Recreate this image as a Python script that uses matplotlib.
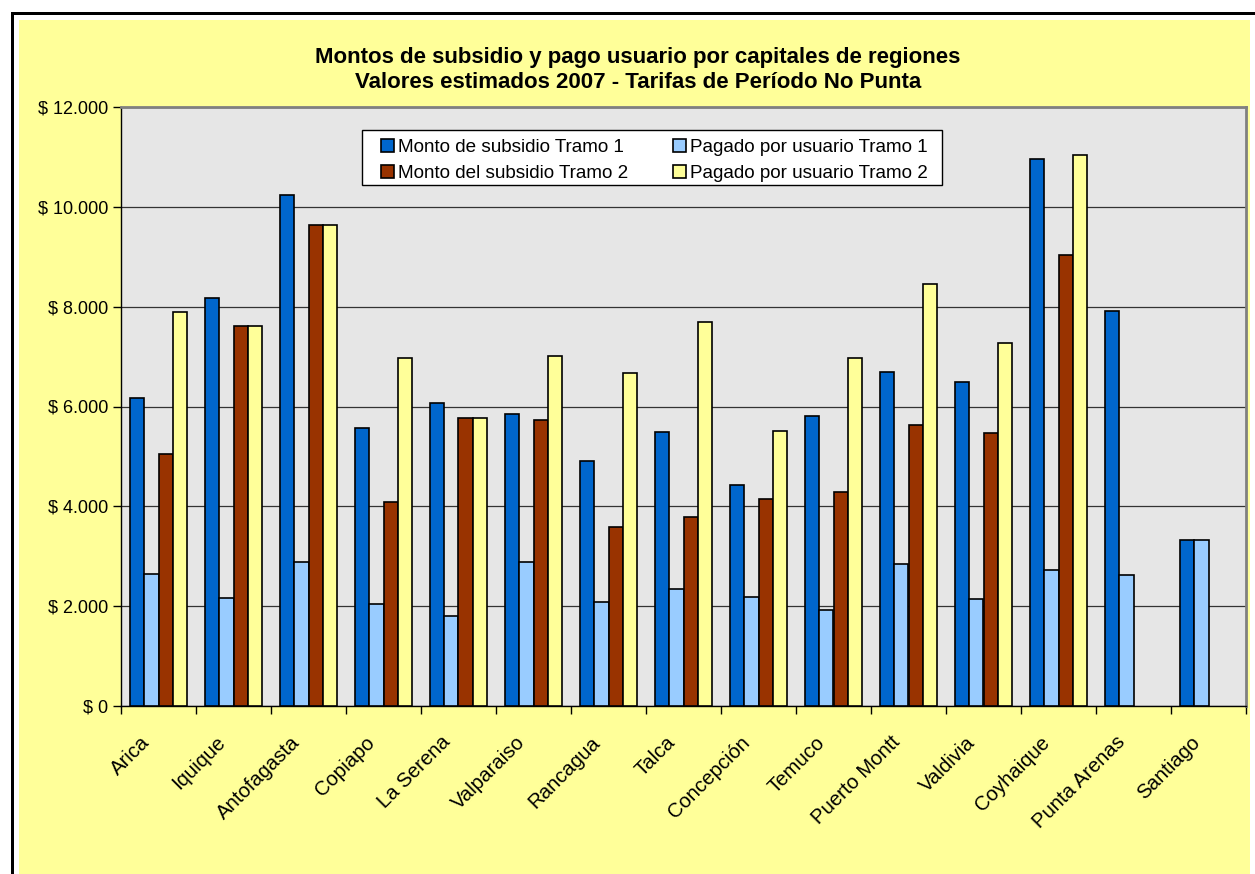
import matplotlib
matplotlib.use("Agg")
import matplotlib.pyplot as plt
import matplotlib.transforms as mtransforms
import numpy as np
from matplotlib.patches import Rectangle
from matplotlib.ticker import FuncFormatter, MultipleLocator, FixedLocator

plt.rcParams['font.family'] = ['Liberation Sans', 'DejaVu Sans']

ciudades = ["Arica", "Iquique", "Antofagasta", "Copiapo", "La Serena", "Valparaiso",
            "Rancagua", "Talca", "Concepción", "Temuco", "Puerto Montt", "Valdivia",
            "Coyhaique", "Punta Arenas", "Santiago"]

subsidio_t1 = [6167, 8167, 10239, 5572, 6064, 5857, 4913, 5492, 4437, 5818, 6683, 6485, 10953, 7905, 3318]
pagado_t1 = [2635, 2167, 2881, 2048, 1802, 2881, 2087, 2341, 2175, 1929, 2849, 2151, 2730, 2627, 3318]
subsidio_t2 = [5040, 7604, 9635, 4080, 5770, 5738, 3587, 3778, 4151, 4278, 5627, 5477, 9032, np.nan, np.nan]
pagado_t2 = [7889, 7604, 9635, 6969, 5770, 7016, 6675, 7683, 5508, 6977, 8453, 7270, 11040, np.nan, np.nan]

series = [
    ("Monto de subsidio Tramo 1", subsidio_t1, "#0066CC"),
    ("Pagado por usuario Tramo 1", pagado_t1, "#99CCFF"),
    ("Monto del subsidio Tramo 2", subsidio_t2, "#993300"),
    ("Pagado por usuario Tramo 2", pagado_t2, "#FFFF99"),
]

W, H = 1255, 874
fig = plt.figure(figsize=(W / 100, H / 100), dpi=100)
fig.patch.set_facecolor("white")

def px_rect(x0, y0, x1, y1, **kw):
    return Rectangle((x0 / W, 1 - y1 / H), (x1 - x0) / W, (y1 - y0) / H,
                     transform=fig.transFigure, **kw)

# outer frame and yellow chart area
fig.add_artist(px_rect(11, 12, W + 5, H + 5, facecolor="black", edgecolor="none", zorder=0))
fig.add_artist(px_rect(14, 15, W + 5, H + 5, facecolor="white", edgecolor="none", zorder=0))
fig.add_artist(px_rect(19, 20, 1250, H + 5, facecolor="#FFFF99", edgecolor="none", zorder=0))

left, right, top, bottom = 121, 1246, 107, 706
ax = fig.add_axes([left / W, 1 - bottom / H, (right - left) / W, (bottom - top) / H])
ax.set_facecolor("#E6E6E6")

n = len(ciudades)
x = np.arange(n)
bw = 0.19
offsets = (np.arange(4) - 1.5) * bw
handles = []
for (label, vals, color), off in zip(series, offsets):
    b = ax.bar(x + off, vals, width=bw, color=color, edgecolor="black", linewidth=1.2,
               label=label, zorder=3)
    handles.append(b)

ax.set_xlim(-0.5, n - 0.5)
ax.set_ylim(0, 12000)
ax.yaxis.set_major_locator(MultipleLocator(2000))
ax.yaxis.set_major_formatter(FuncFormatter(lambda v, p: "$ " + f"{int(v):,}".replace(",", ".")))
ax.grid(axis="y", color="#333333", linewidth=0.9, zorder=1)
ax.set_axisbelow(True)

ax.set_xticks(x)
ax.set_xticklabels(ciudades, rotation=45, ha="right", rotation_mode="anchor", fontsize=14.6)
ax.tick_params(axis="x", which="major", length=0, pad=12)
offset = mtransforms.ScaledTranslation(-18 / 100, -10 / 100, fig.dpi_scale_trans)
for lab in ax.get_xticklabels():
    lab.set_transform(lab.get_transform() + offset)
ax.xaxis.set_minor_locator(FixedLocator(np.arange(n + 1) - 0.5))
ax.tick_params(axis="x", which="minor", length=6, width=1, color="black", direction="out")
ax.tick_params(axis="y", length=6, width=1, color="black", direction="out", labelsize=13, pad=3)

for s in ["top", "right"]:
    ax.spines[s].set_color("#808080")
    ax.spines[s].set_linewidth(2)
for s in ["left", "bottom"]:
    ax.spines[s].set_color("black")
    ax.spines[s].set_linewidth(1)

fig.text(638 / W, 1 - 57 / H,
         "Montos de subsidio y pago usuario por capitales de regiones",
         ha="center", va="center", fontsize=16, fontweight="bold")
fig.text(638 / W, 1 - 83 / H,
         "Valores estimados 2007 - Tarifas de Período No Punta",
         ha="center", va="center", fontsize=16, fontweight="bold")

# legend box
fig.add_artist(px_rect(362, 130, 942, 185, facecolor="white", edgecolor="black",
                       linewidth=1.0, zorder=5))
leg = fig.legend(handles=[handles[0], handles[2], handles[1], handles[3]],
                 labels=[series[0][0], series[2][0], series[1][0], series[3][0]],
                 ncol=2, loc="upper left", bbox_to_anchor=(381 / W, 1 - 139 / H),
                 fontsize=13.6, frameon=False,
                 handlelength=0.69, handleheight=0.69, handletextpad=0.2, columnspacing=2.4,
                 labelspacing=0.46, borderpad=0, borderaxespad=0)
leg.set_zorder(6)

fig.savefig("out.png", dpi=100, facecolor=fig.get_facecolor())
